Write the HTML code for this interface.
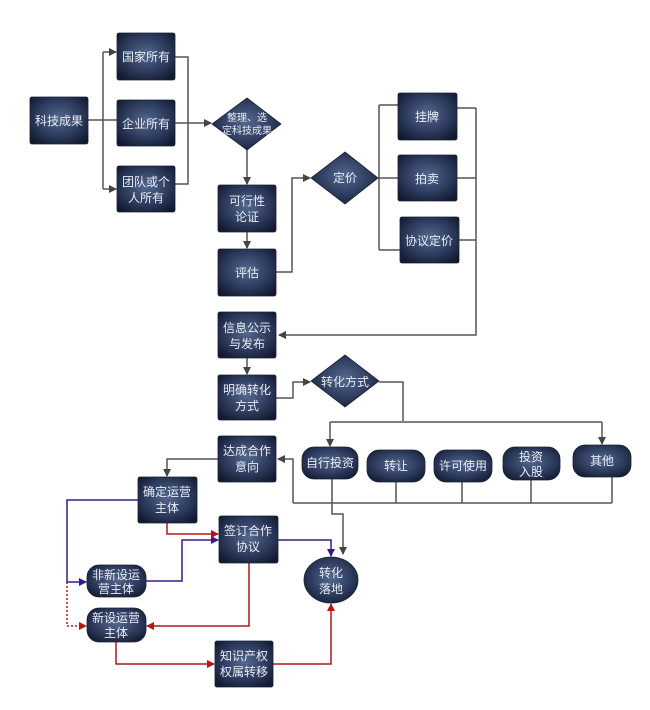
<!DOCTYPE html>
<html><head><meta charset="utf-8"><style>
html,body{margin:0;padding:0;background:#fff;}
svg{display:block;}
text{font-family:"Liberation Sans","Noto Sans CJK SC",sans-serif;font-size:12px;fill:#e8ecf4;text-anchor:middle;}
</style></head><body>
<svg width="650" height="710" viewBox="0 0 650 710" xmlns="http://www.w3.org/2000/svg">
<defs>
<radialGradient id="g" cx="50%" cy="45%" r="65%">
<stop offset="0" stop-color="#54688e"/><stop offset="0.6" stop-color="#2c3a5c"/><stop offset="1" stop-color="#121a30"/>
</radialGradient>
<marker id="ak" markerWidth="8" markerHeight="8" refX="7" refY="4" orient="auto" markerUnits="userSpaceOnUse"><path d="M0,0L8,4L0,8z" fill="#444"/></marker>
<marker id="ar" markerWidth="8" markerHeight="8" refX="7" refY="4" orient="auto" markerUnits="userSpaceOnUse"><path d="M0,0L8,4L0,8z" fill="#b01818"/></marker>
<marker id="ap" markerWidth="8" markerHeight="8" refX="7" refY="4" orient="auto" markerUnits="userSpaceOnUse"><path d="M0,0L8,4L0,8z" fill="#3a1a8a"/></marker>
</defs>
<g fill="none" stroke="#555" stroke-width="1.5">
<path d="M88,120H103M103,52V189"/>
<path d="M103,52H116" marker-end="url(#ak)"/>
<path d="M103,189H116" marker-end="url(#ak)"/>
<path d="M103,120H117"/>
<path d="M175,57H188V184H175"/>
<path d="M175,123H211" marker-end="url(#ak)"/>
<path d="M247,150V184" marker-end="url(#ak)"/>
<path d="M247,232V248" marker-end="url(#ak)"/>
<path d="M276,272H292V178H310" marker-end="url(#ak)"/>
<path d="M378,178H398M379,105V250M379,105H398M379,250H400"/>
<path d="M457,108H476M457,178H476M459,240H476"/>
<path d="M476,108V335H279" marker-end="url(#ak)"/>
<path d="M247,358V374" marker-end="url(#ak)"/>
<path d="M276,398H293V382H310" marker-end="url(#ak)"/>
<path d="M379,382H403V421"/>
<path d="M330,422H602"/>
<path d="M330,422V446" marker-end="url(#ak)"/>
<path d="M602,422V444" marker-end="url(#ak)"/>
<path d="M396,482V503M462,482V503M531,480V503M612,477V503M293,503H612"/>
<path d="M293,503V459H278" marker-end="url(#ak)"/>
<path d="M218,459H167V476" marker-end="url(#ak)"/>
<path d="M332,479V514H343V554" marker-end="url(#ak)"/>
</g>
<g fill="none" stroke="#3a1a8a" stroke-width="1.5">
<path d="M138,500H67V582H86" marker-end="url(#ap)"/>
<path d="M146,581H182V540H218" marker-end="url(#ap)"/>
<path d="M278,540H331V556" marker-end="url(#ap)"/>
</g>
<g fill="none" stroke="#b01818" stroke-width="1.5">
<path d="M67,582V626H86" stroke-dasharray="2,2" marker-end="url(#ar)"/>
<path d="M167,523V534H218" marker-end="url(#ar)"/>
<path d="M249,563V626H147" marker-end="url(#ar)"/>
<path d="M116,642V664H214" marker-end="url(#ar)"/>
<path d="M273,664H331V604" marker-end="url(#ar)"/>
</g>
<g fill="url(#g)" stroke="#1a2238" stroke-width="0.8">
<rect x="30" y="97" width="58" height="47" rx="2"/>
<rect x="117" y="33" width="58" height="47" rx="2"/>
<rect x="117" y="100" width="58" height="46" rx="2"/>
<rect x="117" y="166" width="58" height="46" rx="2"/>
<polygon points="247,98 281,124 247,150 212,124"/>
<rect x="218" y="185" width="58" height="47" rx="2"/>
<rect x="218" y="249" width="58" height="47" rx="2"/>
<polygon points="345,152 378,178 345,204 311,178"/>
<rect x="398" y="93" width="59" height="47" rx="2"/>
<rect x="398" y="155" width="59" height="46" rx="2"/>
<rect x="400" y="217" width="59" height="46" rx="2"/>
<rect x="218" y="312" width="58" height="46" rx="2"/>
<rect x="218" y="375" width="58" height="45" rx="2"/>
<polygon points="345,355 379,381 345,407 311,381"/>
<rect x="302" y="447" width="56" height="32" rx="12"/>
<rect x="367" y="450" width="58" height="32" rx="12"/>
<rect x="434" y="450" width="58" height="32" rx="12"/>
<rect x="503" y="447" width="57" height="33" rx="12"/>
<rect x="573" y="445" width="58" height="32" rx="12"/>
<rect x="218" y="436" width="58" height="46" rx="2"/>
<rect x="138" y="477" width="59" height="46" rx="2"/>
<rect x="219" y="516" width="59" height="47" rx="2"/>
<rect x="87" y="565" width="59" height="32" rx="12"/>
<rect x="87" y="608" width="59" height="34" rx="12"/>
<rect x="215" y="641" width="58" height="46" rx="2"/>
<ellipse cx="331" cy="580" rx="27" ry="23"/>
</g>
<text x="59" y="125">科技成果</text>
<text x="146" y="61">国家所有</text>
<text x="146" y="128">企业所有</text>
<text x="146" y="186">团队或个</text><text x="146" y="202">人所有</text>
<text x="247" y="121" style="font-size:10px">整理、选</text><text x="247" y="134" style="font-size:10px">定科技成果</text>
<text x="247" y="205">可行性</text><text x="247" y="221">论证</text>
<text x="247" y="277">评估</text>
<text x="345" y="182">定价</text>
<text x="427" y="121">挂牌</text>
<text x="427" y="183">拍卖</text>
<text x="429" y="245">协议定价</text>
<text x="247" y="332">信息公示</text><text x="247" y="348">与发布</text>
<text x="247" y="394">明确转化</text><text x="247" y="410">方式</text>
<text x="345" y="386">转化方式</text>
<text x="330" y="467">自行投资</text>
<text x="396" y="470">转让</text>
<text x="463" y="470">许可使用</text>
<text x="531" y="461">投资</text><text x="531" y="476">入股</text>
<text x="602" y="465">其他</text>
<text x="247" y="455">达成合作</text><text x="247" y="471">意向</text>
<text x="167" y="496">确定运营</text><text x="167" y="512">主体</text>
<text x="248" y="535">签订合作</text><text x="248" y="551">协议</text>
<text x="116" y="579">非新设运</text><text x="116" y="593">营主体</text>
<text x="116" y="622">新设运营</text><text x="116" y="637">主体</text>
<text x="244" y="660">知识产权</text><text x="244" y="676">权属转移</text>
<text x="331" y="577">转化</text><text x="331" y="593">落地</text>
</svg>
</body></html>
